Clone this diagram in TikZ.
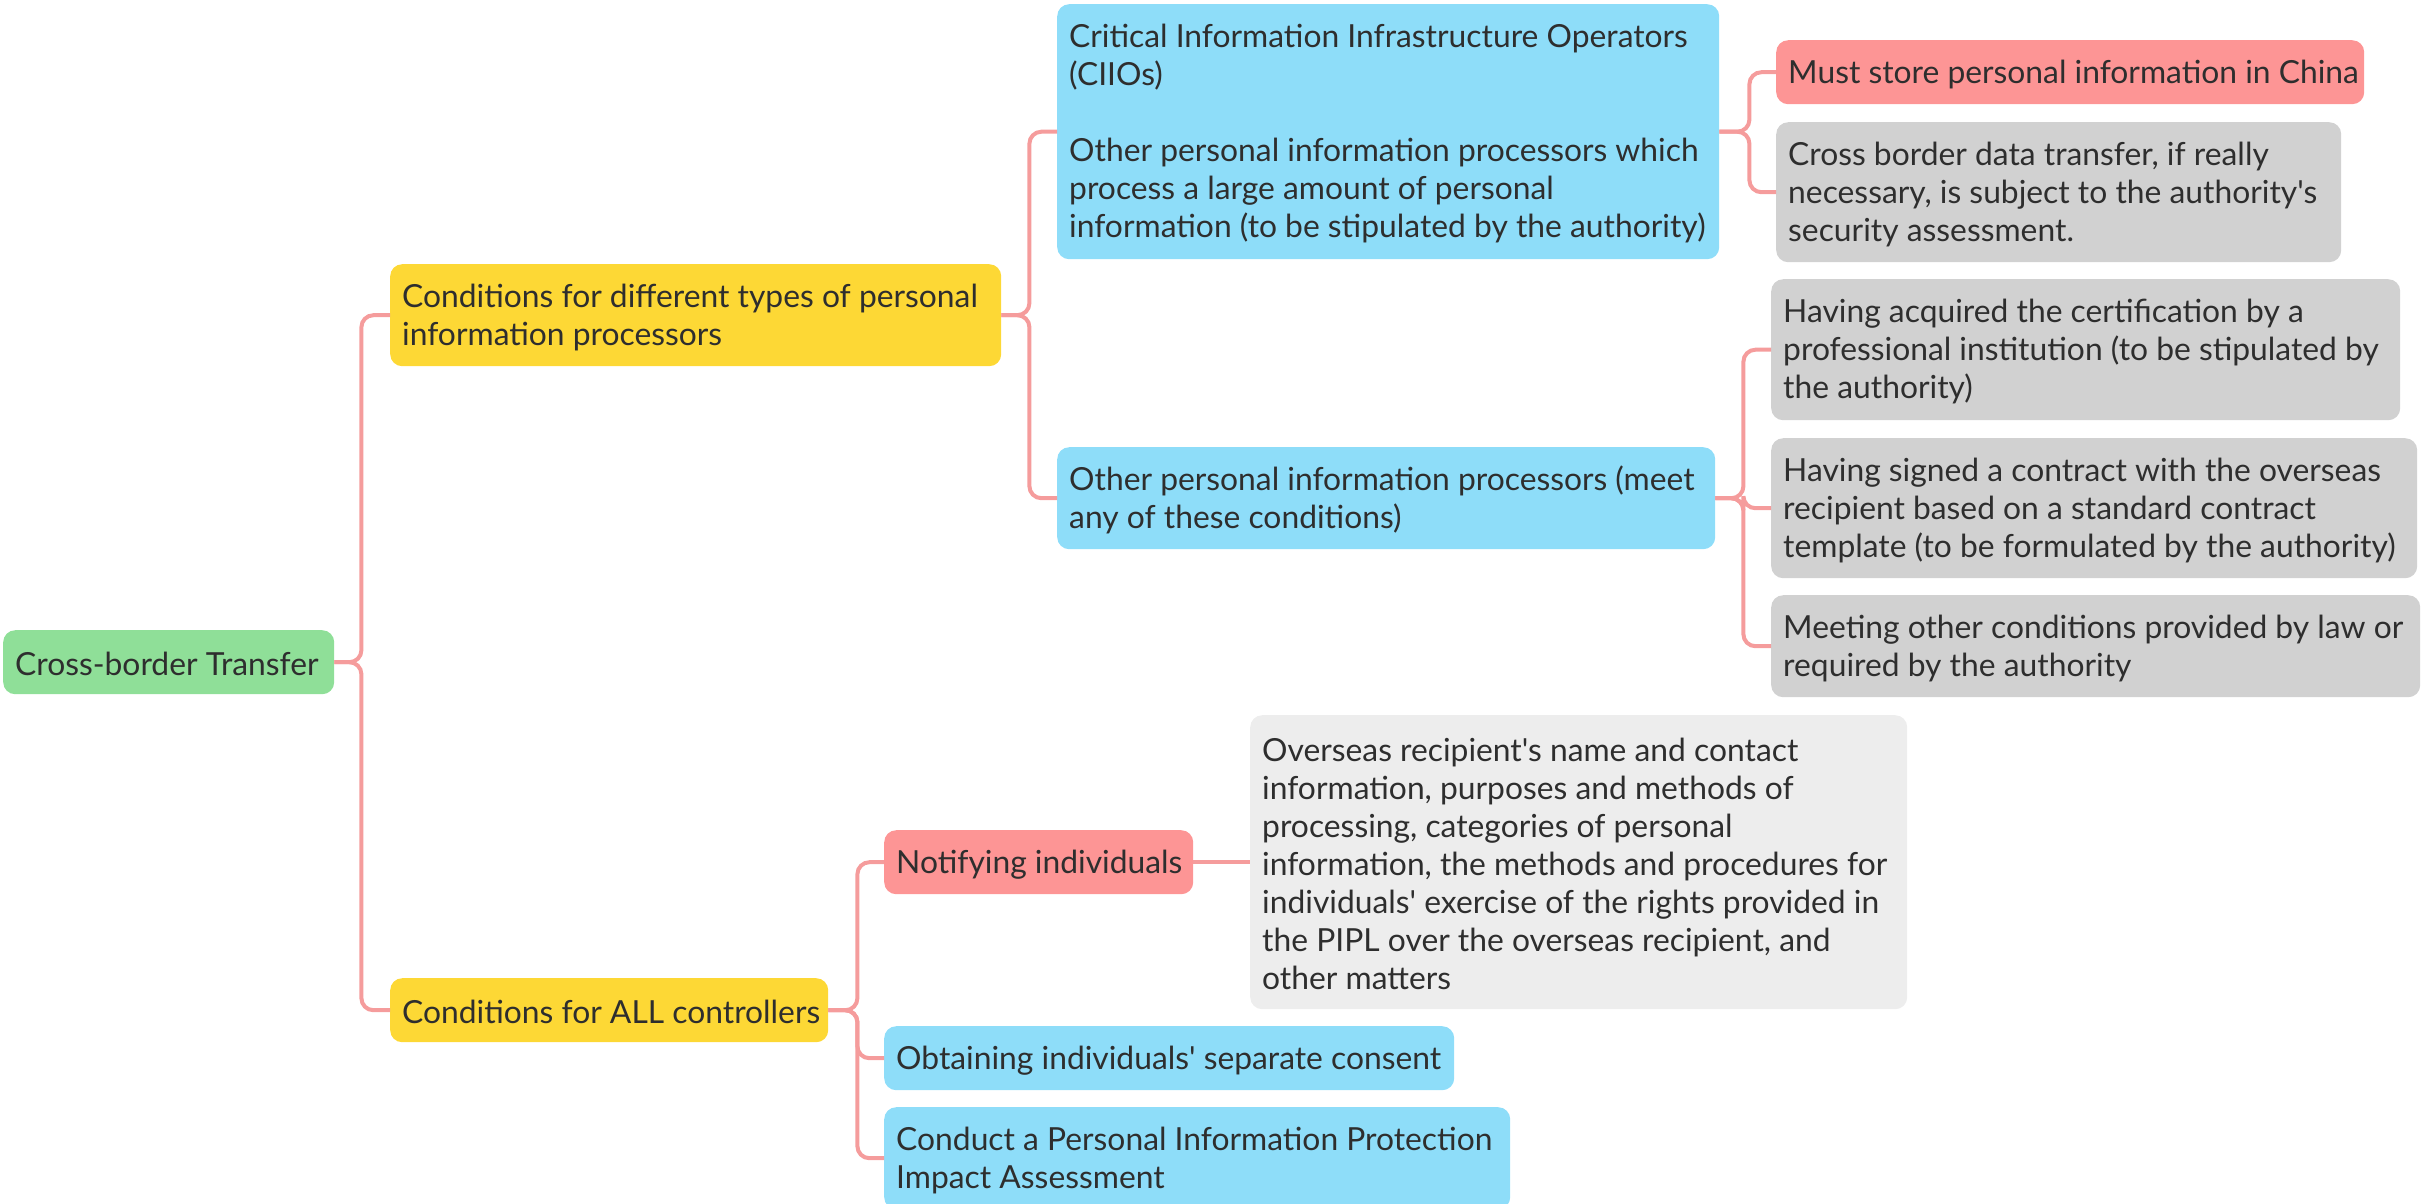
\documentclass[tikz,border=0pt]{standalone}
\usepackage{fontspec}
\newfontfamily\mmfont{Lato}
\definecolor{cgreen}{HTML}{8FDF98}
\definecolor{cyellow}{HTML}{FDD835}
\definecolor{cblue}{HTML}{8EDDF9}
\definecolor{cred}{HTML}{FD9595}
\definecolor{cgray}{HTML}{D1D1D1}
\definecolor{clgray}{HTML}{EDEDED}
\definecolor{cline}{HTML}{F59C9C}
\definecolor{ctext}{HTML}{2E2E2E}
\tikzset{
  mmbox/.style={fill=#1, draw=none, rounded corners=12pt, inner sep=0pt, anchor=north west},
  lbl/.style={inner sep=0pt, align=left, anchor=west, text=ctext,
    font=\mmfont\fontsize{31.8pt}{38pt}\selectfont},
  conn/.style={draw=cline, line width=4pt, rounded corners=12pt}
}
% name, colour, x, y, w, h, text
\newcommand\mmnode[7]{%
  \node[mmbox=#2, minimum width=#5pt, minimum height=#6pt] (#1) at (#3,#4) {};
  \node[lbl] (#1-t) at ([xshift=12pt,yshift=-2pt]#1.west) {#7};}
\begin{document}
\begin{tikzpicture}[x=1pt,y=-1pt]
\useasboundingbox (0,0) rectangle (2435,1203);
\clip (0,0) rectangle (2435,1203);
\mmnode{root}{cgreen}{3}{630}{331}{64}{Cross-border Transfer}
\mmnode{y1}{cyellow}{390}{264}{611}{102}{Conditions for different types of personal\\information processors}
\mmnode{y2}{cyellow}{390}{978}{438}{64}{Conditions for ALL controllers}
\mmnode{b1}{cblue}{1057}{4}{662}{255}{Critical Information Infrastructure Operators\\(CIIOs)\\[38pt]Other personal information processors which\\process a large amount of personal\\information (to be stipulated by the authority)}
\mmnode{b2}{cblue}{1057}{447}{658}{102}{Other personal information processors (meet\\any of these conditions)}
\mmnode{r1}{cred}{1776}{40}{588}{64}{Must store personal information in China}
\mmnode{g1}{cgray}{1776}{122}{565}{140}{Cross border data transfer, if really\\necessary, is subject to the authority's\\security assessment.}
\mmnode{g2}{cgray}{1771}{279}{629}{141}{Having acquired the certification by a\\professional institution (to be stipulated by\\the authority)}
\mmnode{g3}{cgray}{1771}{438}{646}{140}{Having signed a contract with the overseas\\recipient based on a standard contract\\template (to be formulated by the authority)}
\mmnode{g4}{cgray}{1771}{595}{649}{102}{Meeting other conditions provided by law or\\required by the authority}
\mmnode{rn}{cred}{884}{830}{309}{64}{Notifying individuals}
\mmnode{lg}{clgray}{1250}{715}{657}{294}{Overseas recipient's name and contact\\information, purposes and methods of\\processing, categories of personal\\information, the methods and procedures for\\individuals' exercise of the rights provided in\\the PIPL over the overseas recipient, and\\other matters}
\mmnode{b3}{cblue}{884}{1026}{570}{64}{Obtaining individuals' separate consent}
\mmnode{b4}{cblue}{884}{1107}{626}{102}{Conduct a Personal Information Protection\\Impact Assessment}
% connectors
\draw[conn] (root.east) -- ([xshift=27pt]root.east) |- (y1.west);
\draw[conn] (root.east) -- ([xshift=27pt]root.east) |- (y2.west);
\draw[conn] (y1.east) -- ([xshift=28pt]y1.east) |- (b1.west);
\draw[conn] (y1.east) -- ([xshift=28pt]y1.east) |- (b2.west);
\draw[conn] (b1.east) -- ([xshift=30pt]b1.east) |- (r1.west);
\draw[conn] (b1.east) -- ([xshift=30pt]b1.east) |- (g1.west);
\draw[conn] (b2.east) -- ([xshift=28pt]b2.east) |- (g2.west);
\draw[conn] (b2.east) -- ([xshift=28pt]b2.east) |- (g3.west);
\draw[conn] (b2.east) -- ([xshift=28pt]b2.east) |- (g4.west);
\draw[conn] (y2.east) -- ([xshift=29pt]y2.east) |- (rn.west);
\draw[conn] (y2.east) -- ([xshift=29pt]y2.east) |- (b3.west);
\draw[conn] (y2.east) -- ([xshift=29pt]y2.east) |- (b4.west);
\draw[conn] (rn.east) -- (lg.west);
\end{tikzpicture}
\end{document}
